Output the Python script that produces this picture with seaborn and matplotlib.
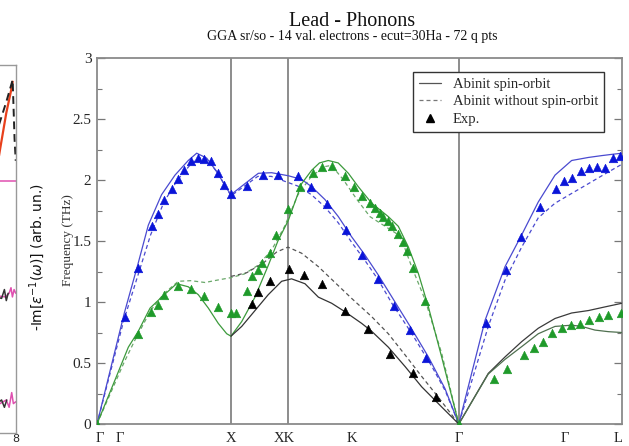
import numpy as np
import pandas as pd
import matplotlib
matplotlib.use("Agg")
import matplotlib.pyplot as plt
from matplotlib.lines import Line2D
from matplotlib.ticker import MultipleLocator
import seaborn as sns

# ---------------- data (q = path coordinate, f = frequency THz) ----------------
tick_pos = [0.02, 0.17, 1.0, 1.40, 1.903, 2.70, 3.493, 3.89]
tick_labels = ["Γ", "Γ", "X", "XK", "K", "Γ", "Γ", "L"]
vlines_q = [1.0, 1.425, 2.70]
y_ticks = [0, 0.5, 1, 1.5, 2, 2.5, 3]
y_tick_labels = ["0", "0.5", "1", "1.5", "2", "2.5", "3"]

# blue branch (LA-like), spin-orbit (solid)
blue_so_q = [0, 0.204, 0.303, 0.383, 0.482, 0.582, 0.681, 0.744, 0.818, 0.893, 0.968, 1.0,
             1.104, 1.204, 1.303, 1.428, 1.527, 1.602, 1.701, 1.801, 1.90, 2.0, 2.1, 2.224,
             2.348, 2.473, 2.597, 2.70,
             2.896, 3.045, 3.169, 3.293, 3.418, 3.542, 3.667, 3.766, 3.84, 3.918]
blue_so_f = [0, 0.91, 1.30, 1.63, 1.88, 2.04, 2.16, 2.22, 2.18, 2.07, 1.93, 1.88,
             1.97, 2.055, 2.06, 2.035, 2.005, 1.945, 1.84, 1.70, 1.535, 1.385, 1.22, 1.0,
             0.78, 0.55, 0.29, 0.0,
             0.85, 1.29, 1.55, 1.82, 2.04, 2.16, 2.185, 2.20, 2.21, 2.22]
# blue branch without spin-orbit (dashed)
blue_nso_q = [0, 0.2, 0.3, 0.4, 0.5, 0.6, 0.7, 0.76, 0.82, 0.9, 1.0,
              1.1, 1.2, 1.3, 1.4, 1.5, 1.6, 1.7, 1.8, 1.9, 2.0, 2.1, 2.2, 2.35, 2.5, 2.6, 2.70,
              2.92, 3.045, 3.169, 3.293, 3.418, 3.542, 3.667, 3.791, 3.918]
blue_nso_f = [0, 0.85, 1.20, 1.55, 1.82, 2.0, 2.13, 2.18, 2.17, 2.06, 1.87,
              1.95, 2.03, 2.03, 1.99, 1.95, 1.88, 1.78, 1.65, 1.49, 1.34, 1.18, 0.99, 0.74, 0.47, 0.27, 0.0,
              0.80, 1.18, 1.45, 1.69, 1.81, 1.89, 1.97, 2.05, 2.13]

# green branch, spin-orbit (solid)
green_so_q = [0, 0.134, 0.234, 0.308, 0.396, 0.482, 0.594, 0.681, 0.756, 0.831, 0.905, 0.968, 1.0,
              1.08, 1.179, 1.278, 1.35, 1.428, 1.527, 1.602, 1.66, 1.726, 1.80, 1.876, 1.95,
              2.05, 2.174, 2.249, 2.324, 2.398, 2.473, 2.572, 2.70]
green_so_f = [0, 0.36, 0.63, 0.76, 0.95, 1.04, 1.15, 1.125, 1.06, 0.95, 0.825, 0.74, 0.72,
              0.84, 1.04, 1.30, 1.50, 1.67, 1.97, 2.08, 2.14, 2.16, 2.14, 2.055, 1.945,
              1.81, 1.70, 1.62, 1.45, 1.235, 0.96, 0.55, 0.0]
# green branch without spin-orbit (dashed)
green_nso_q = [0, 0.2, 0.284, 0.4, 0.5, 0.607, 0.7, 0.806, 0.9, 1.0,
               1.1, 1.2, 1.3, 1.4, 1.5, 1.6, 1.7, 1.75, 1.84, 1.94, 2.037, 2.137, 2.236,
               2.274, 2.348, 2.448, 2.572, 2.70]
green_nso_f = [0, 0.50, 0.69, 0.93, 1.07, 1.17, 1.175, 1.16, 1.18, 1.20,
               1.23, 1.30, 1.42, 1.62, 1.88, 2.03, 2.11, 2.12, 2.0, 1.84, 1.70, 1.63, 1.56,
               1.51, 1.29, 1.02, 0.58, 0.0]

# black branch (X-K-Gamma), spin-orbit (solid) and without (dashed)
black_so_q = [1.0, 1.08, 1.179, 1.278, 1.378, 1.452, 1.552, 1.652, 1.751, 1.851, 1.975,
              2.05, 2.174, 2.3, 2.423, 2.572, 2.70]
black_so_f = [0.72, 0.80, 0.93, 1.06, 1.17, 1.19, 1.15, 1.04, 0.99, 0.92, 0.825,
              0.76, 0.63, 0.47, 0.305, 0.14, 0.0]
black_nso_q = [1.0, 1.117, 1.241, 1.341, 1.425, 1.527, 1.652, 1.776, 1.90, 2.05, 2.174,
               2.3, 2.423, 2.547, 2.70]
black_nso_f = [1.21, 1.24, 1.32, 1.41, 1.45, 1.40, 1.29, 1.16, 1.03, 0.88, 0.74,
               0.565, 0.39, 0.22, 0.0]

# Gamma-L transverse branches
gl_upper_q = [2.70, 2.92, 3.045, 3.169, 3.293, 3.418, 3.542, 3.667, 3.791, 3.918]
gl_upper_f = [0.0, 0.415, 0.55, 0.675, 0.785, 0.865, 0.91, 0.93, 0.96, 0.99]
gl_lower_q = [2.70, 2.92, 3.045, 3.169, 3.293, 3.418, 3.542, 3.617, 3.716, 3.816, 3.918]
gl_lower_f = [0.0, 0.41, 0.53, 0.634, 0.74, 0.80, 0.81, 0.80, 0.77, 0.757, 0.75]

# experimental points
blue_exp_q = [0.209, 0.308, 0.408, 0.458, 0.502, 0.557, 0.602, 0.652, 0.701, 0.751, 0.801,
              0.851, 0.901, 0.950, 1.0, 1.117, 1.241, 1.353, 1.498, 1.597, 1.719, 1.858,
              1.975, 2.094, 2.219, 2.336, 2.453,
              2.90, 3.05, 3.164, 3.306, 3.423, 3.485, 3.547, 3.61, 3.672, 3.729, 3.791,
              3.848, 3.903]
blue_exp_f = [0.88, 1.28, 1.62, 1.72, 1.84, 1.93, 2.01, 2.08, 2.16, 2.18, 2.17,
              2.16, 2.06, 1.96, 1.885, 1.95, 2.04, 2.04, 2.035, 1.94, 1.80, 1.59,
              1.385, 1.19, 0.97, 0.77, 0.54,
              0.83, 1.26, 1.53, 1.78, 1.93, 1.99, 2.02, 2.07, 2.10, 2.11, 2.10,
              2.18, 2.20]
green_exp_q = [0, 0.303, 0.403, 0.453, 0.502, 0.602, 0.701, 0.801, 0.901, 1.0, 1.04,
               1.117, 1.159, 1.199, 1.234, 1.291, 1.336, 1.423, 1.515, 1.614, 1.676, 1.756,
               1.851, 1.918, 1.98, 2.037, 2.075, 2.112, 2.137, 2.174, 2.199, 2.249, 2.28,
               2.31, 2.36, 2.448, 2.70,
               2.965, 3.062, 3.189, 3.261, 3.326, 3.398, 3.468, 3.537, 3.604, 3.674,
               3.746, 3.816, 3.908]
green_exp_f = [0, 0.74, 0.92, 0.975, 1.06, 1.13, 1.11, 1.05, 0.96, 0.91, 0.91,
               1.09, 1.21, 1.26, 1.32, 1.40, 1.55, 1.76, 1.94, 2.06, 2.11, 2.115,
               2.03, 1.94, 1.87, 1.81, 1.77, 1.73, 1.70, 1.66, 1.62, 1.56, 1.49,
               1.42, 1.28, 1.01, 0.0,
               0.366, 0.45, 0.565, 0.62, 0.675, 0.75, 0.785, 0.81, 0.82, 0.85,
               0.88, 0.89, 0.91]
black_exp_q = [1.159, 1.204, 1.291, 1.43, 1.547, 1.676, 1.851, 2.02, 2.187, 2.36, 2.53]
black_exp_f = [0.98, 1.085, 1.17, 1.27, 1.22, 1.145, 0.925, 0.775, 0.57, 0.42, 0.22]

legend_labels = ["Abinit spin-orbit", "Abinit without spin-orbit", "Exp."]

# left (cropped) neighbour panel: loss function curves
eels_xticks = [8]
eels_xtick_labels = ["8"]
eels_red_x = [6.9, 7.333, 7.6, 7.8, 7.87]
eels_red_y = [0.60, 0.77, 0.87, 0.93, 0.955]
eels_dash_x = [7.2, 7.6, 7.87, 7.95, 8.0]
eels_dash_y = [0.82, 0.90, 0.96, 0.80, 0.74]
eels_pink1_x = [7.0, 8.0]
eels_pink1_y = [0.686, 0.686]
eels_pink2_x = [7.0, 7.333, 7.55, 7.72, 7.80, 7.86, 7.93, 8.0]
eels_pink2_y = [0.37, 0.372, 0.37, 0.38, 0.395, 0.37, 0.39, 0.38]
eels_black2_x = [7.2, 7.40, 7.52, 7.60, 7.68]
eels_black2_y = [0.37, 0.366, 0.39, 0.36, 0.38]
eels_pink3_x = [7.0, 7.333, 7.60, 7.72, 7.83, 7.90, 8.0]
eels_pink3_y = [0.08, 0.08, 0.09, 0.07, 0.11, 0.08, 0.085]
eels_black3_x = [7.2, 7.40, 7.52, 7.62]
eels_black3_y = [0.08, 0.09, 0.07, 0.09]

# ---------------- style ----------------
sns.set_style("white")
plt.rcParams['font.family'] = ['Liberation Serif', 'DejaVu Serif']
plt.rcParams['mathtext.fontset'] = 'dejavusans'

C_BLUE_LINE = "#4a4ad0"
C_BLUE_PT = "#0a14d8"
C_GREEN_LINE = "#3c9a3c"
C_GREEN_PT = "#1f9a2a"
C_BLACK_LINE = "#333333"
DASH = (0, (3.2, 2.4))

fig = plt.figure(figsize=(6.29, 4.46), dpi=100)

# ---- left cropped panel ----
axl = fig.add_axes([-0.275, 0.029, 0.3, 0.825])
sns.lineplot(x=eels_red_x, y=eels_red_y, ax=axl, color="#e8401c", lw=1.6, sort=False, estimator=None)
sns.lineplot(x=eels_dash_x, y=eels_dash_y, ax=axl, color="#222222", lw=1.4, sort=False,
             estimator=None, linestyle=(0, (4, 2.5)))
for xs, ys, c in [(eels_pink1_x, eels_pink1_y, "#e050b0"),
                  (eels_pink2_x, eels_pink2_y, "#e050b0"),
                  (eels_black2_x, eels_black2_y, "#333333"),
                  (eels_pink3_x, eels_pink3_y, "#e050b0"),
                  (eels_black3_x, eels_black3_y, "#333333")]:
    sns.lineplot(x=xs, y=ys, ax=axl, color=c, lw=1.1, sort=False, estimator=None)
axl.set_xlim(0, 8)
axl.set_ylim(0, 1)
axl.set_xticks(eels_xticks)
axl.set_xticklabels(eels_xtick_labels, family="DejaVu Sans", fontsize=8)
axl.set_yticks([])
axl.tick_params(axis='x', direction='in', length=3, pad=0.5)
for s in axl.spines.values():
    s.set_color("#999999")
    s.set_linewidth(1.0)
axl.set_xlabel("")
axl.set_ylabel("")
fig.text(0.0588, 0.424, r"-Im[$\epsilon^{-1}(\omega)$] (arb. un.)", rotation=90,
         ha="center", va="center", family="DejaVu Sans", fontsize=10, color="#111111")

# ---- main panel ----
ax = fig.add_axes([0.1542, 0.0493, 0.8347, 0.8206])
for q in vlines_q:
    ax.axvline(q, color="#6e6e6e", lw=1.1, zorder=1)

def line(qs, fs, color, dashed=False):
    kw = dict(linestyle=DASH) if dashed else {}
    sns.lineplot(x=qs, y=fs, ax=ax, color=color, lw=0.9, sort=False, estimator=None,
                 zorder=3, **kw)

line(blue_nso_q, blue_nso_f, C_BLUE_LINE, True)
line(green_nso_q, green_nso_f, "#6aa86a", True)
line(black_nso_q, black_nso_f, "#555555", True)
line(blue_so_q, blue_so_f, C_BLUE_LINE)
line(green_so_q, green_so_f, C_GREEN_LINE)
line(black_so_q, black_so_f, C_BLACK_LINE)
line(gl_upper_q, gl_upper_f, "#3a3a3a")
line(gl_lower_q, gl_lower_f, "#4f6f4f")

sns.scatterplot(x=blue_exp_q, y=blue_exp_f, ax=ax, marker="^", s=38, color=C_BLUE_PT,
                edgecolor=C_BLUE_PT, linewidth=0.4, zorder=5)
sns.scatterplot(x=green_exp_q, y=green_exp_f, ax=ax, marker="^", s=38, color=C_GREEN_PT,
                edgecolor=C_GREEN_PT, linewidth=0.4, zorder=5)
sns.scatterplot(x=black_exp_q, y=black_exp_f, ax=ax, marker="^", s=38, color="black",
                edgecolor="black", linewidth=0.4, zorder=5)

ax.set_xlim(0, 3.918)
ax.set_ylim(0, 3)
ax.set_xticks(tick_pos)
ax.set_xticklabels(tick_labels, fontsize=10.5)
ax.set_yticks(y_ticks)
ax.set_yticklabels(y_tick_labels, fontsize=11)
ax.yaxis.set_minor_locator(MultipleLocator(0.25))
ax.tick_params(axis='x', which='both', length=0, pad=6)
ax.tick_params(axis='y', which='major', direction='in', length=6, width=0.9,
               left=True, right=True, pad=4, color="#777777")
ax.tick_params(axis='y', which='minor', direction='in', length=3.5, width=0.8,
               left=True, right=True, color="#777777")
for s in ax.spines.values():
    s.set_color("#8a8a8a")
    s.set_linewidth(1.3)
ax.set_xlabel("")
ax.set_ylabel("")

handles = [Line2D([], [], color="#555555", lw=0.9),
           Line2D([], [], color="#777777", lw=0.9, linestyle=DASH),
           Line2D([], [], ls="none", marker="^", color="black", markersize=5.5)]
leg = ax.legend(handles, legend_labels, loc="upper right", bbox_to_anchor=(0.9657, 0.9626),
                borderaxespad=0, fancybox=False, framealpha=1, edgecolor="#333333",
                fontsize=10.5, handlelength=1.5, handletextpad=0.8, labelspacing=0.3,
                borderpad=0.4)
leg.get_frame().set_linewidth(1.0)
leg.set_zorder(10)

fig.text(0.108, 0.462, "Frequency (THz)", rotation=90, ha="center", va="center",
         fontsize=9.5, color="#333333")
fig.text(0.5596, 0.9428, "Lead - Phonons", ha="center", va="baseline", fontsize=14.5,
         color="#111111")
fig.text(0.5596, 0.9092, "GGA sr/so - 14 val. electrons - ecut=30Ha - 72 q pts",
         ha="center", va="baseline", fontsize=10, color="#111111")

fig.savefig("out.png", dpi=100)
